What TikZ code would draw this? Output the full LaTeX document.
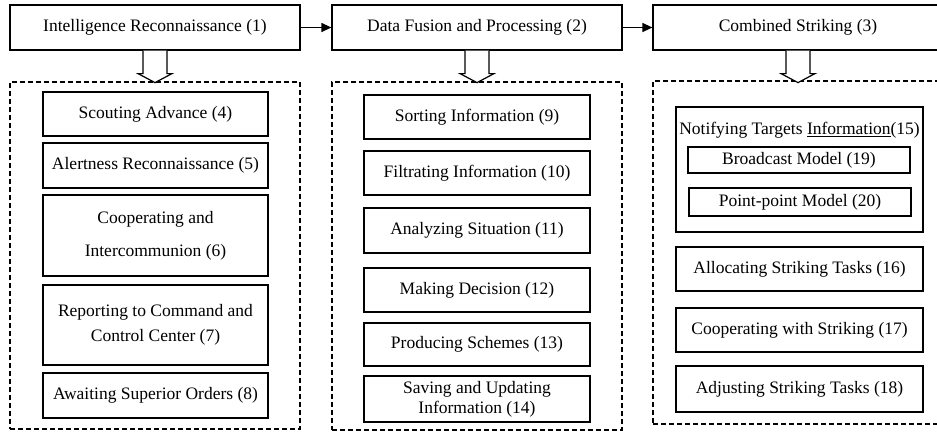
\documentclass[tikz,border=0pt]{standalone}
\usepackage{fontspec}
\setmainfont{Liberation Serif}
\usetikzlibrary{arrows.meta}
\begin{document}
\begin{tikzpicture}[x=1pt,y=-1pt,line join=miter,font=\fontsize{17.5}{20}\selectfont,
	blk/.style={draw,line width=1.2pt,align=center,inner sep=0pt},
	grp/.style={draw,dash pattern=on 5pt off 3pt,line width=1.2pt,inner sep=0pt}]
	\useasboundingbox (0,0) rectangle (937,432);
	\tikzset{downarr/.pic={
			\draw[line width=1.2pt,fill=white] (-12,0) -- (-12,23) -- (-17,23) -- (0,32) -- (17,23) -- (12,23) -- (12,0);
	}}
	% the three stages
	\node[blk,minimum width=290pt,minimum height=45pt] (t1) at (155,27.5) {Intelligence Reconnaissance (1)};
	\node[blk,minimum width=290pt,minimum height=45pt] (t2) at (477,27.5) {Data Fusion and Processing (2)};
	\node[blk,minimum width=290pt,minimum height=45pt] (t3) at (798,27.5) {Combined Striking (3)};
	\draw[line width=1.2pt,-{Triangle[length=10pt,width=9pt]}] (t1) -- (t2);
	\draw[line width=1.2pt,-{Triangle[length=10pt,width=9pt]}] (t2) -- (t3);
	% dashed groups
	\node[grp,minimum width=290pt,minimum height=347pt] (g1) at (155,255.5) {};
	\node[grp,minimum width=290pt,minimum height=348pt] (g2) at (477,256) {};
	\node[grp,minimum width=292pt,minimum height=343pt] (g3) at (799,252.5) {};
	\foreach \k in {1,2,3}{\pic at (t\k.south) {downarr};}
	% reconnaissance steps
	\foreach \n/\cy/\h/\txt in {4/114/44/{Scouting Advance (4)},5/165.5/45/{Alertness Reconnaissance (5)},
		6/235.5/81/{Cooperating and\\[13pt]Intercommunion (6)},7/325/80/{Reporting to Command and\\[5pt]Control Center (7)},
		8/395.5/45/{Awaiting Superior Orders (8)}}
	{\node[blk,minimum width=225pt,minimum height=\h pt] (n\n) at (155.5,\cy) {\txt};}
	% fusion steps
	\foreach \n/\cy/\h/\txt in {9/117/44/{Sorting Information (9)},10/173/44/{Filtrating Information (10)},
		11/230.5/45/{Analyzing Situation (11)},12/290/44/{Making Decision (12)},13/344.5/43/{Producing Schemes (13)},
		14/399/46/{Saving and Updating\\Information (14)}}
	{\node[blk,minimum width=226pt,minimum height=\h pt] (n\n) at (477,\cy) {\txt};}
	% striking steps
	\node[blk,minimum width=247pt,minimum height=125pt] (n15) at (799.5,169.5) {};
	\node (n15t) at (799.5,130) {Notifying Targets \underline{Information}(15)};
	\node[blk,minimum width=222pt,minimum height=26pt] (n19) at (799,160) {Broadcast Model (19)};
	\node[blk,minimum width=222pt,minimum height=28pt] (n20) at (800,202) {Point-point Model (20)};
	\foreach \n/\cy/\h/\txt in {16/269/44/{Allocating Striking Tasks (16)},17/330/44/{Cooperating with Striking (17)},
		18/389/46/{Adjusting Striking Tasks (18)}}
	{\node[blk,minimum width=247pt,minimum height=\h pt] (n\n) at (799.5,\cy) {\txt};}
\end{tikzpicture}
\end{document}
